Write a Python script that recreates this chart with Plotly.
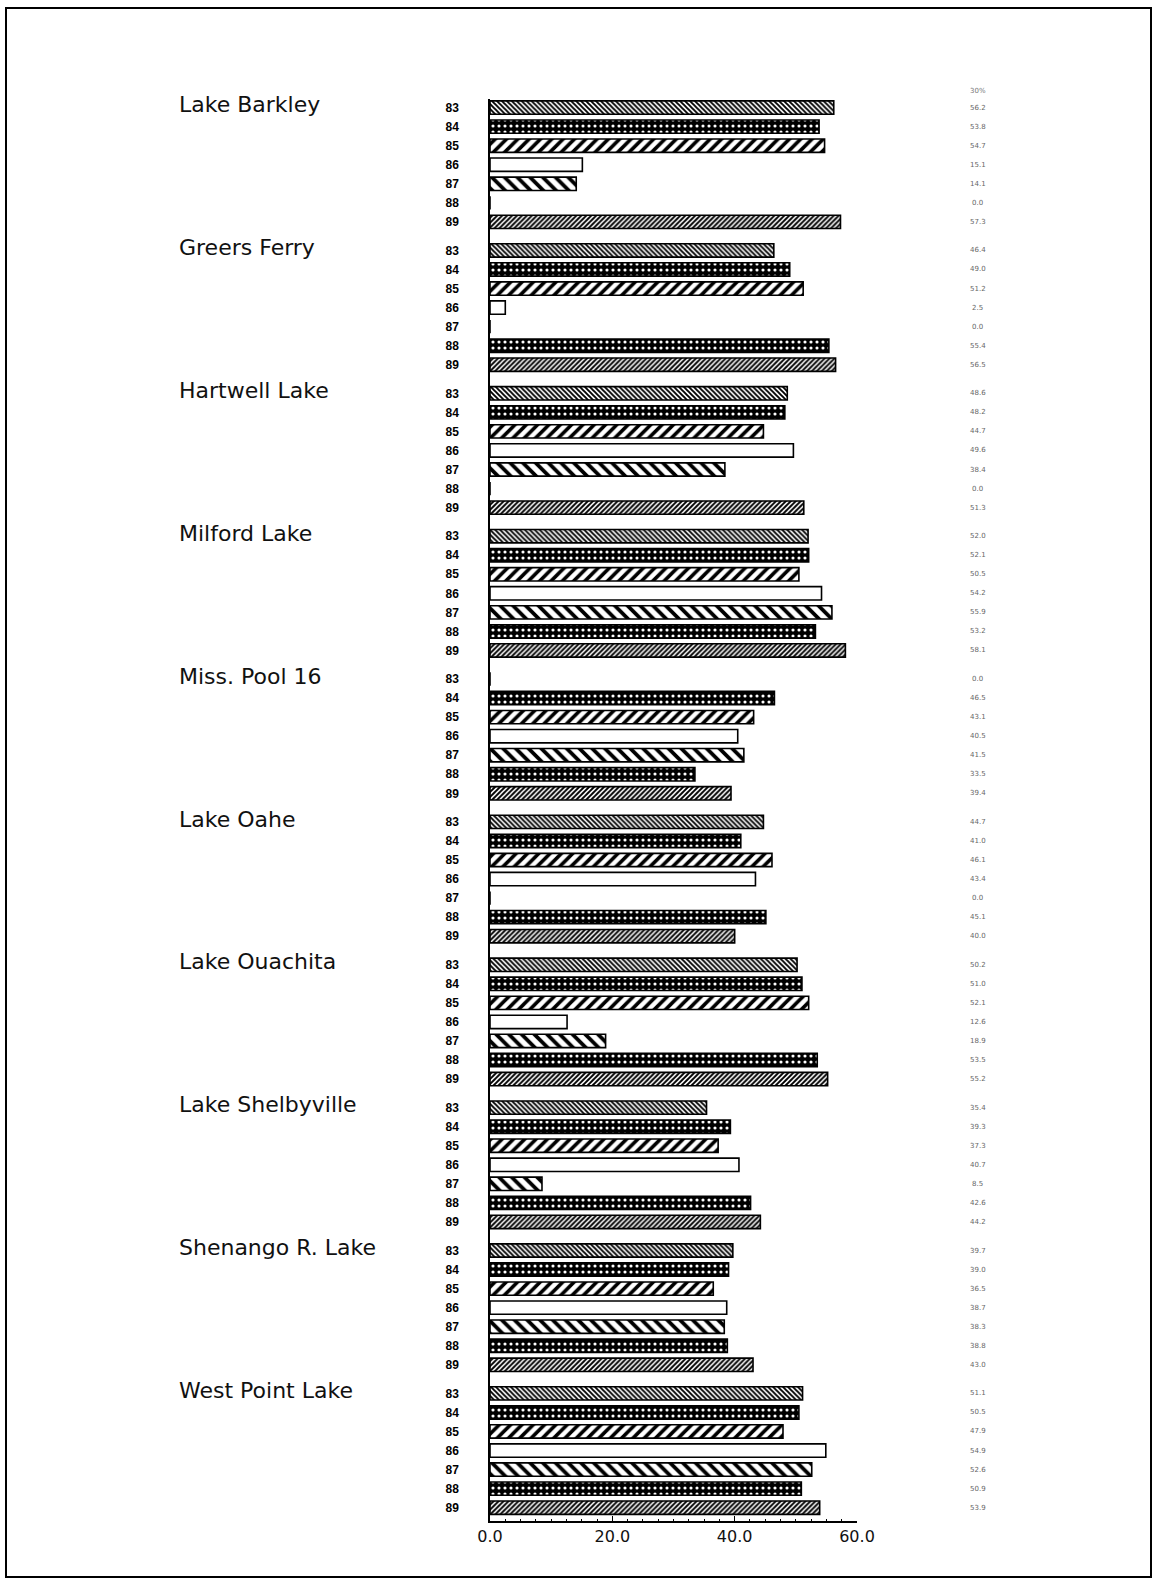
import plotly.graph_objects as go

lakes = ["Lake Barkley", "Greers Ferry", "Hartwell Lake", "Milford Lake", "Miss. Pool 16",
         "Lake Oahe", "Lake Ouachita", "Lake Shelbyville", "Shenango R. Lake", "West Point Lake"]
years = ["83", "84", "85", "86", "87", "88", "89"]

v83 = [56.2, 46.4, 48.6, 52.0, 0.0, 44.7, 50.2, 35.4, 39.7, 51.1]
v84 = [53.8, 49.0, 48.2, 52.1, 46.5, 41.0, 51.0, 39.3, 39.0, 50.5]
v85 = [54.7, 51.2, 44.7, 50.5, 43.1, 46.1, 52.1, 37.3, 36.5, 47.9]
v86 = [15.1, 2.5, 49.6, 54.2, 40.5, 43.4, 12.6, 40.7, 38.7, 54.9]
v87 = [14.1, 0.0, 38.4, 55.9, 41.5, 0.0, 18.9, 8.5, 38.3, 52.6]
v88 = [0.0, 55.4, 0.0, 53.2, 33.5, 45.1, 53.5, 42.6, 38.8, 50.9]
v89 = [57.3, 56.5, 51.3, 58.1, 39.4, 40.0, 55.2, 44.2, 43.0, 53.9]
series = [v83, v84, v85, v86, v87, v88, v89]

x_ticks = [0, 20, 40, 60]
x_tick_labels = ["0.0", "20.0", "40.0", "60.0"]
header_label = "30%"

GROUP = 7.5  # row units per lake group (7 rows + half-row gap)
W, H = 1155, 1585

# pattern styles per year
styles = [
    dict(shape="\\", bgcolor="white", fgcolor="black", size=3.5, solidity=0.55),
    dict(shape=".", bgcolor="black", fgcolor="white", size=6, solidity=0.22),
    dict(shape="/", bgcolor="white", fgcolor="black", size=8, solidity=0.45),
    dict(shape="", bgcolor="white", fgcolor="black", size=8, solidity=0.3),
    dict(shape="\\", bgcolor="white", fgcolor="black", size=9, solidity=0.42),
    dict(shape=".", bgcolor="black", fgcolor="white", size=6, solidity=0.22),
    dict(shape="/", bgcolor="white", fgcolor="black", size=3.5, solidity=0.55),
]

fig = go.Figure()
tickvals, ticktext = [], []
for i, (yr, vals) in enumerate(zip(years, series)):
    ypos = [g * GROUP + i for g in range(len(lakes))]
    tickvals += ypos
    ticktext += [yr] * len(ypos)
    st = styles[i]
    fig.add_trace(go.Bar(
        x=vals, y=ypos, orientation="h", width=0.7,
        marker=dict(color="white", line=dict(color="black", width=1.6),
                    pattern=dict(shape=st["shape"], bgcolor=st["bgcolor"], fgcolor=st["fgcolor"],
                                 size=st["size"], solidity=st["solidity"], fillmode="replace")),
        showlegend=False, hoverinfo="x+y",
    ))

annotations = []
for g, name in enumerate(lakes):
    annotations.append(dict(x=177 / W, xref="paper", y=g * GROUP - 0.15, yref="y",
                            text=name, showarrow=False, xanchor="left", yanchor="middle",
                            font=dict(family="DejaVu Sans", size=22, color="#111")))
for i, vals in enumerate(series):
    for g, v in enumerate(vals):
        annotations.append(dict(x=978 / W, xref="paper", y=g * GROUP + i, yref="y",
                                text=f"{v:.1f}", showarrow=False, xanchor="center", yanchor="middle",
                                font=dict(family="DejaVu Sans", size=7, color="#666")))
annotations.append(dict(x=978 / W, xref="paper", y=1 - 91 / H, yref="paper",
                        text=header_label, showarrow=False, xanchor="center", yanchor="middle",
                        font=dict(family="DejaVu Sans", size=7, color="#777")))

fig.update_layout(
    width=W, height=H,
    margin=dict(l=0, r=0, t=0, b=0, autoexpand=False),
    paper_bgcolor="white", plot_bgcolor="white",
    barmode="overlay",
    annotations=annotations,
    shapes=[dict(type="rect", xref="paper", yref="paper",
                 x0=6 / W, x1=1151 / W, y0=1 - 1577 / H, y1=1 - 8 / H,
                 line=dict(color="black", width=2), fillcolor="rgba(0,0,0,0)")],
    xaxis=dict(domain=[490 / W, 857 / W], range=[0, 60], tickvals=x_ticks, ticktext=x_tick_labels,
               showline=True, linecolor="black", linewidth=1.5, showgrid=False, zeroline=False,
               ticks="inside", ticklen=5, tickcolor="black",
               minor=dict(dtick=2.5, ticks="inside", ticklen=2, tickcolor="black"),
               tickfont=dict(family="DejaVu Sans", size=16, color="#111")),
    yaxis=dict(domain=[1 - 1521 / H, 1 - 99 / H], range=[74.2, -0.45],
               tickvals=tickvals, ticktext=ticktext, ticks="", ticklabelstandoff=27,
               showline=True, linecolor="black", linewidth=1.5, showgrid=False, zeroline=False,
               tickfont=dict(family="Liberation Sans", size=12, color="black", weight="bold")),
)

fig.write_html("out.html", config={"displayModeBar": False},
               post_script="document.body.style.margin='0';document.body.style.overflow='hidden';")
